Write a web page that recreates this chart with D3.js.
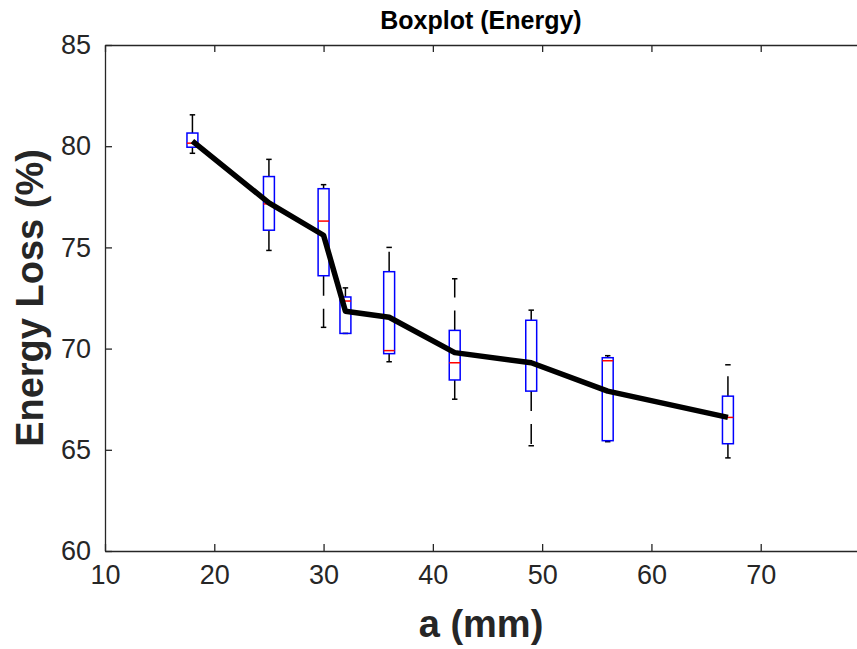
<!DOCTYPE html>
<html>
<head>
<meta charset="utf-8">
<script src="https://cdn.jsdelivr.net/npm/d3@7"></script>
<style>
  html, body { margin: 0; padding: 0; background: #fff; }
  svg { display: block; }
  text { font-family: "Liberation Sans", Arial, sans-serif; }
</style>
</head>
<body>
<svg id="chart" width="857" height="649"></svg>
<script>
// ---- data ----
const positions = [18, 25, 30, 32, 36, 42, 49, 56, 67];
const upperWhisker = [81.55, 79.35, 78.10, 73.00, 75.00, 73.45, 71.90, 69.65, 69.20];
const q3Values     = [80.65, 78.50, 77.90, 72.55, 73.80, 70.90, 71.40, 69.55, 67.65];
const medianValues = [80.15, 77.15, 76.30, 72.35, 69.90, 69.30, 69.30, 69.40, 66.60];
const q1Values     = [79.95, 75.85, 73.60, 70.75, 69.75, 68.45, 67.90, 65.45, 65.30];
const lowerWhisker = [79.65, 74.85, 71.05, 70.75, 69.35, 67.50, 65.20, 65.40, 64.60];
const lineValues   = [80.25, 77.20, 75.60, 71.85, 71.55, 69.80, 69.30, 67.90, 66.60];
const xTicks = [10, 20, 30, 40, 50, 60, 70];
const yTicks = [60, 65, 70, 75, 80, 85];
const titleText = "Boxplot (Energy)";
const xLabel = "a (mm)";
const yLabel = "Energy Loss (%)";

// ---- layout ----
const L = 105, R = 870, T = 45, B = 551;
const axisColor = "#262626";
const svg = d3.select("#chart");
const x = d3.scaleLinear().domain([10, 80]).range([L, R]);
const y = d3.scaleLinear().domain([60, 85]).range([B, T]);

// axes frame
const tickLen = 7;
const xAxisB = d3.axisBottom(x).tickValues(xTicks).tickSizeInner(-tickLen).tickSizeOuter(0).tickPadding(14);
const gx = svg.append("g").attr("transform", `translate(0,${B})`).call(xAxisB);
const xAxisT = d3.axisTop(x).tickValues(xTicks).tickSizeInner(-tickLen).tickSizeOuter(0).tickFormat("");
const gxt = svg.append("g").attr("transform", `translate(0,${T})`).call(xAxisT);
const yAxisL = d3.axisLeft(y).tickValues(yTicks).tickSizeInner(-tickLen).tickSizeOuter(0).tickPadding(14);
const gy = svg.append("g").attr("transform", `translate(${L},0)`).call(yAxisL);
const yAxisR = d3.axisRight(y).tickValues(yTicks).tickSizeInner(-tickLen).tickSizeOuter(0).tickFormat("");
const gyr = svg.append("g").attr("transform", `translate(${R},0)`).call(yAxisR);

[gx, gxt, gy, gyr].forEach(g => {
  g.select(".domain").attr("stroke", axisColor).attr("stroke-width", 1.3);
  g.selectAll(".tick line").attr("stroke", axisColor).attr("stroke-width", 1.3);
  g.selectAll(".tick text").attr("fill", axisColor)
    .style("font-size", "27px");
});
gx.selectAll(".tick text").attr("dy", "0.71em");

// boxes
const boxHalf = 0.5; // data units
const capHalf = 0.25;
const boxes = svg.append("g");
positions.forEach((p, i) => {
  const g = boxes.append("g");
  // whiskers (dashed, starting at box edge)
  g.append("line")
    .attr("x1", x(p)).attr("x2", x(p))
    .attr("y1", y(q3Values[i])).attr("y2", y(upperWhisker[i]))
    .attr("stroke", "#000").attr("stroke-width", 1.5).attr("stroke-dasharray", "20,13");
  g.append("line")
    .attr("x1", x(p)).attr("x2", x(p))
    .attr("y1", y(q1Values[i])).attr("y2", y(lowerWhisker[i]))
    .attr("stroke", "#000").attr("stroke-width", 1.5).attr("stroke-dasharray", "20,13");
  // caps
  [upperWhisker[i], lowerWhisker[i]].forEach(v => {
    g.append("line")
      .attr("x1", x(p - capHalf)).attr("x2", x(p + capHalf))
      .attr("y1", y(v)).attr("y2", y(v))
      .attr("stroke", "#000").attr("stroke-width", 1.5);
  });
  // box
  g.append("rect")
    .attr("x", x(p - boxHalf)).attr("width", x(p + boxHalf) - x(p - boxHalf))
    .attr("y", y(q3Values[i])).attr("height", y(q1Values[i]) - y(q3Values[i]))
    .attr("fill", "none").attr("stroke", "#0000ff").attr("stroke-width", 1.5);
  // median
  g.append("line")
    .attr("x1", x(p - boxHalf)).attr("x2", x(p + boxHalf))
    .attr("y1", y(medianValues[i])).attr("y2", y(medianValues[i]))
    .attr("stroke", "#ff0000").attr("stroke-width", 1.5);
});

// mean line
const line = d3.line().x((d, i) => x(positions[i])).y(d => y(d));
svg.append("path")
  .datum(lineValues)
  .attr("d", line)
  .attr("fill", "none")
  .attr("stroke", "#000")
  .attr("stroke-width", 5.5)
  .attr("stroke-linejoin", "round");

// title & labels
const cx = 481;
svg.append("text").attr("x", cx).attr("y", 29)
  .attr("text-anchor", "middle").attr("font-weight", "bold")
  .style("font-size", "25px").attr("fill", "#000").text(titleText);
svg.append("text").attr("x", cx).attr("y", 637)
  .attr("text-anchor", "middle").attr("font-weight", "bold")
  .style("font-size", "38px").attr("fill", axisColor).text(xLabel);
svg.append("text")
  .attr("transform", `translate(43,${(T + B) / 2}) rotate(-90)`)
  .attr("text-anchor", "middle").attr("font-weight", "bold")
  .style("font-size", "38px").attr("fill", axisColor).text(yLabel);
</script>
</body>
</html>
